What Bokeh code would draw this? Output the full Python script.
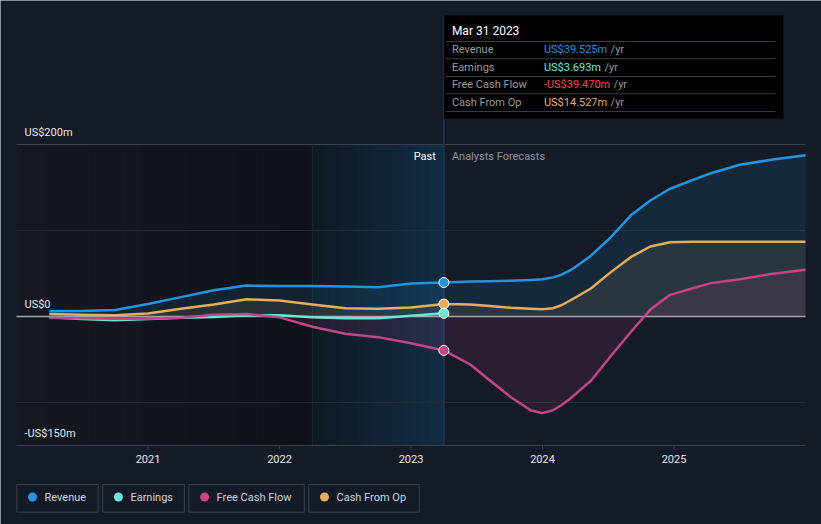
import numpy as np
from bokeh.plotting import figure
from bokeh.models import Range1d
from bokeh.embed import file_html
from bokeh.resources import INLINE
from bokeh.core.properties import value

# ---------------- data (US$ millions) ----------------
hist_years = [2020.25, 2020.5, 2020.75, 2021.0, 2021.25, 2021.5, 2021.75,
              2022.0, 2022.25, 2022.5, 2022.75, 2023.0, 2023.25]
revenue_hist = [6.0, 6.5, 7.5, 14.5, 22.5, 30.5, 36.0, 35.5, 35.5, 35.0, 34.0, 38.5, 39.525]
earnings_hist = [-1.0, -3.0, -4.5, -3.0, -1.5, -0.5, 1.5, 1.5, -1.0, -2.0, -2.0, 1.0, 3.693]
fcf_hist = [-1.5, -2.0, -2.5, -2.5, -1.5, 2.0, 3.0, -1.0, -12.0, -20.0, -24.0, -31.0, -39.47]
cfo_hist = [3.0, 2.0, 1.5, 3.5, 9.0, 14.0, 20.0, 18.5, 14.0, 9.5, 9.0, 10.5, 14.527]

fc_years = [2023.25, 2023.45, 2023.6, 2023.76, 2023.91, 2024.0, 2024.08, 2024.14, 2024.21,
            2024.29, 2024.37, 2024.52, 2024.67, 2024.82, 2024.97, 2025.13, 2025.28,
            2025.5, 2025.75, 2026.0]
revenue_fc = [39.525, 40.7, 41.1, 41.5, 42.5, 43.2, 45.5, 48.4, 53.5, 62.0, 71.0, 92.2,
              117.4, 134.9, 148.5, 158.0, 166.6, 176.4, 182.6, 187.6]
cfo_fc = [14.527, 14.0, 12.3, 10.1, 9.0, 8.5, 9.7, 12.8, 18.6, 25.6, 32.8, 51.6, 69.0,
          81.4, 86.4, 86.8, 86.8, 86.8, 86.8, 86.8]
fcf_fc = [-39.47, -55.8, -74.4, -93.8, -109.0, -112.4, -109.0, -103.5, -95.7, -85.0,
          -74.4, -46.0, -18.3, 8.0, 25.2, 32.2, 38.8, 43.4, 49.6, 54.3]

y_ticks = [200, 0, -150]
y_tick_labels = ["US$200m", "US$0", "-US$150m"]
y_grid = [200, 100, -100]
x_ticks = [2021, 2022, 2023, 2024, 2025]
x_tick_labels = ["2021", "2022", "2023", "2024", "2025"]
series_names = ["Revenue", "Earnings", "Free Cash Flow", "Cash From Op"]
tooltip_date = "Mar 31 2023"
present = 2023.25
x_start, x_end = 2020.0, 2026.0
y_min, y_max = -150.0, 200.0

# ---------------- style ----------------
BG = "#151b26"
FONT = "Roboto"
C_REV = "#2394df"
C_EARN = "#6fe3d3"
C_FCF = "#c4458a"
C_CFO = "#e6ad5e"
C_NEG = "#f04848"
colors = [C_REV, C_EARN, C_FCF, C_CFO]

W, H = 821, 524
KX = 131.5      # px per year
KY = 0.86       # px per US$m
PX_LEFT = 16    # page column of x_start
PY_TOP = 144    # page row of y_max


def rx(c):   # page column -> data x
    return x_start + (c - PX_LEFT) / KX


def ry(r):   # page row -> data y
    return y_max - (r - PY_TOP) / KY


def hexmix(c1, c2, t):
    a = np.array([int(c1[i:i + 2], 16) for i in (1, 3, 5)], float)
    b = np.array([int(c2[i:i + 2], 16) for i in (1, 3, 5)], float)
    c = a + (b - a) * t
    return "#%02x%02x%02x" % tuple(int(round(v)) for v in c)


p = figure(width=W, height=H, x_range=Range1d(rx(0), rx(W)), y_range=Range1d(ry(H), ry(0)),
           output_backend="svg", toolbar_location=None,
           min_border_left=0, min_border_right=0, min_border_top=0, min_border_bottom=0,
           background_fill_color=BG, border_fill_color=None, outline_line_color=None,
           x_axis_location=None, y_axis_location=None)
p.grid.visible = False

# background regions (dark past, highlighted last year)
band_start = present - 1.0
n1 = 40
e1 = np.linspace(x_start, band_start, n1 + 1)
p.quad(left=e1[:-1], right=e1[1:] + 0.003, bottom=y_min, top=y_max,
       fill_color=[hexmix("#141821", "#0f1219", t) for t in np.linspace(0, 1, n1)],
       line_color=None)
n2 = 30
e2 = np.linspace(band_start, present, n2 + 1)
p.quad(left=e2[:-1], right=e2[1:] + 0.003, bottom=y_min, top=y_max,
       fill_color=[hexmix("#0f1923", "#122c44", t) for t in np.linspace(0, 1, n2)],
       line_color=None)

# grid lines
p.segment(x0=[x_start] * 2, x1=[x_end] * 2, y0=y_grid[1:], y1=y_grid[1:],
          line_color="#262c36", line_width=1)
p.segment(x0=[x_start], x1=[x_end], y0=[y_grid[0]], y1=[y_grid[0]],
          line_color="#3c424c", line_width=1)
p.segment(x0=[band_start], y0=[y_min], x1=[band_start], y1=[y_max], line_color="#1f2833", line_width=1)
p.segment(x0=[present], y0=[y_min], x1=[present], y1=[ry(15)], line_color="#1f3346", line_width=2)

# x axis (line, ticks, labels)
p.segment(x0=[x_start], x1=[x_end], y0=[y_min], y1=[y_min], line_color="#3b414b", line_width=1)
p.segment(x0=x_ticks, x1=x_ticks, y0=[y_min] * 5, y1=[y_min - 4 / KY] * 5,
          line_color="#3b414b", line_width=1)
p.text(x=x_ticks, y=[y_min - 13 / KY] * 5, text=x_tick_labels, text_font=value(FONT),
       text_font_size="11px", text_color="#e6e6e6", text_align="center", text_baseline="middle")

# full series
rev_x = hist_years + fc_years[1:]
rev_y = revenue_hist + revenue_fc[1:]
cfo_y = cfo_hist + cfo_fc[1:]
fcf_y = fcf_hist + fcf_fc[1:]

p.varea(x=rev_x, y1=0, y2=rev_y, fill_color=C_REV, fill_alpha=0.12)
p.varea(x=rev_x, y1=0, y2=cfo_y, fill_color=C_CFO, fill_alpha=0.10)
p.varea(x=rev_x, y1=0, y2=fcf_y, fill_color=C_FCF, fill_alpha=0.12)
p.varea(x=hist_years, y1=0, y2=earnings_hist, fill_color=C_EARN, fill_alpha=0.10)

p.segment(x0=[x_start], x1=[x_end], y0=[0], y1=[0], line_color="#a3a5a9", line_width=1.5)

p.line(hist_years, earnings_hist, line_color=C_EARN, line_width=2.5, line_join="round")
p.line(rev_x, fcf_y, line_color=C_FCF, line_width=2.5, line_join="round")
p.line(rev_x, cfo_y, line_color=C_CFO, line_width=2.5, line_join="round")
p.line(rev_x, rev_y, line_color=C_REV, line_width=2.5, line_join="round")

last_vals = [revenue_hist[-1], fcf_hist[-1], cfo_hist[-1], earnings_hist[-1]]
p.scatter(x=[present] * 4, y=last_vals, size=10,
          fill_color=[C_REV, C_FCF, C_CFO, C_EARN], line_color="white", line_width=1)

# y labels
p.text(x=[rx(24)] * 3, y=[v + 12 / KY for v in y_ticks], text=y_tick_labels,
       text_font=value(FONT), text_font_size="11px", text_color="#e6e6e6",
       text_align="left", text_baseline="middle")

# past / forecast labels
p.text(x=[present], y=[ry(156)], text=["Past"], x_offset=-8, text_font=value(FONT),
       text_font_size="11px", text_color="#ffffff", text_align="right", text_baseline="middle")
p.text(x=[present], y=[ry(156)], text=["Analysts Forecasts"], x_offset=8, text_font=value(FONT),
       text_font_size="11px", text_color="#8f949c", text_align="left", text_baseline="middle")

# tooltip
p.quad(left=[present], right=[rx(783)], top=[ry(15)], bottom=[ry(118)],
       fill_color="#000000", line_color=None)
sep_rows = [41, 58.3, 76, 93.3, 111]
p.segment(x0=[rx(445)] * 5, x1=[rx(775)] * 5, y0=[ry(r) for r in sep_rows],
          y1=[ry(r) for r in sep_rows], line_color="#3a3d43", line_width=1)
p.text(x=[present], y=[ry(30.7)], text=[tooltip_date], x_offset=8, text_font=value(FONT),
       text_font_size="12px", text_color="#ffffff", text_align="left", text_baseline="middle")

tip_vals = [revenue_hist[-1], earnings_hist[-1], fcf_hist[-1], cfo_hist[-1]]
tip_txt = [("-" if v < 0 else "") + "US$%.3fm" % abs(v) for v in tip_vals]
tip_col = [C_REV if tip_vals[0] >= 0 else C_NEG, C_EARN if tip_vals[1] >= 0 else C_NEG,
           C_FCF if tip_vals[2] >= 0 else C_NEG, C_CFO if tip_vals[3] >= 0 else C_NEG]
row_y = [ry(r) for r in [49.3, 66.7, 84.3, 101.7]]
p.text(x=[present] * 4, y=row_y, text=series_names, x_offset=8, text_font=value(FONT),
       text_font_size="11px", text_color="#9a9a9a", text_align="left", text_baseline="middle")
p.text(x=[present] * 4, y=row_y, text=tip_txt, x_offset=100, text_font=value(FONT),
       text_font_size="11px", text_color=tip_col, text_align="left", text_baseline="middle")

cw = {"U": 0.65, "S": 0.59, "$": 0.56, "m": 0.876, ".": 0.263, "-": 0.276}


def tw(s, size=11):
    return sum(cw.get(ch, 0.5615) for ch in s) * size


yr_off = [100 + tw(s) + 3.5 for s in tip_txt]
p.text(x=[present] * 4, y=row_y, text=["/yr"] * 4, x_offset=yr_off, text_font=value(FONT),
       text_font_size="11px", text_color="#9a9a9a", text_align="left", text_baseline="middle")

# ---------------- legend (below the axis) ----------------
text_w = [42.0, 42.3, 76.0, 71.0]
lefts, rights, dots, txts = [], [], [], []
cur = 16.3
for w in text_w:
    lefts.append(rx(cur))
    dots.append(rx(cur + 15.7))
    txts.append(rx(cur + 27.7))
    r = cur + 27.7 + w + 11.7
    rights.append(rx(r))
    cur = r + 4.5
p.quad(left=lefts, right=rights, top=ry(484), bottom=ry(511.7), fill_color=None,
       line_color="#3a404a", line_width=1)
p.scatter(x=dots, y=[ry(496.5)] * 4, size=9, fill_color=colors, line_color=None)
p.text(x=txts, y=[ry(496.5)] * 4, text=series_names, text_font=value(FONT), text_font_size="11px",
       text_color="#d0d3d8", text_align="left", text_baseline="middle")

html = file_html(p, INLINE)
html = html.replace("<body>", '<body style="background-color:%s;">' % BG, 1)
open("out.html", "w").write(html)
